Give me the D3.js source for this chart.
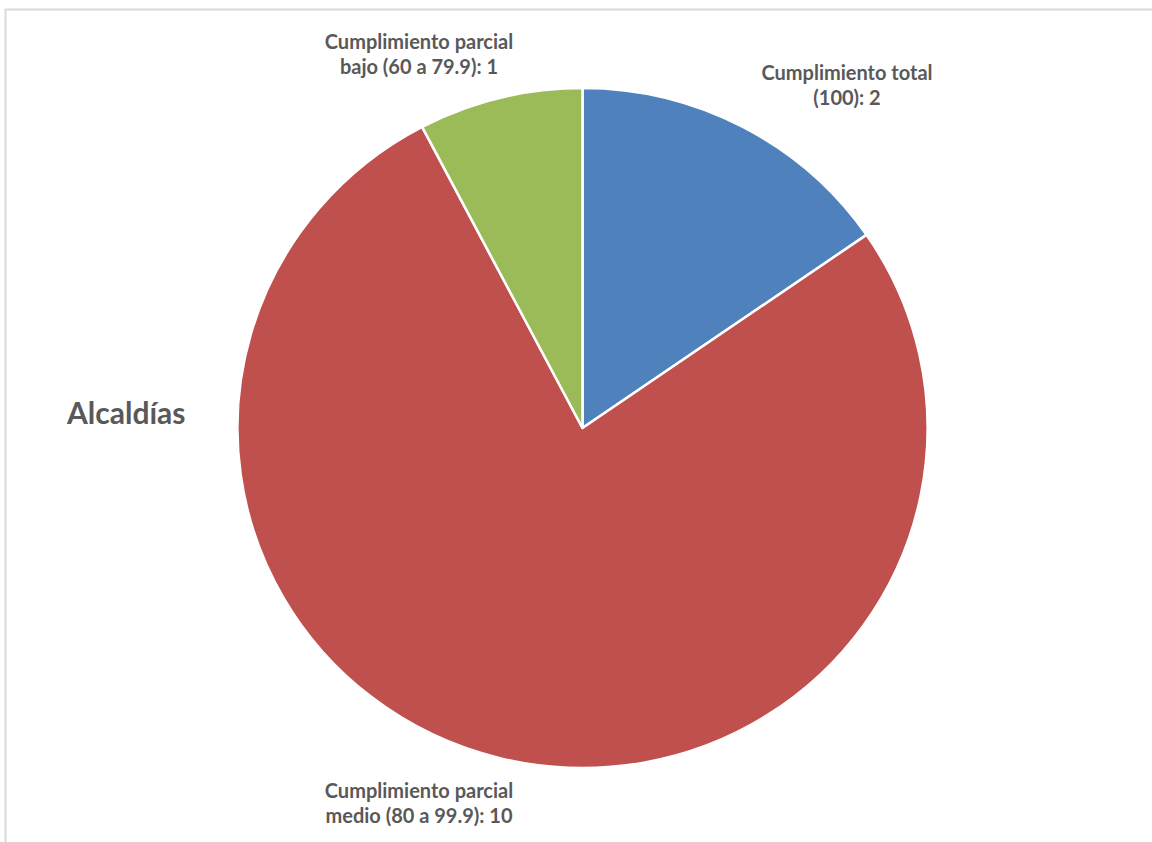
<!DOCTYPE html>
<html><head><meta charset="utf-8">
<script src="https://cdn.jsdelivr.net/npm/d3@7"></script>
<style>body{margin:0;background:#fff;}svg{display:block;}</style>
</head><body>
<svg id="c" width="1152" height="842"></svg>
<script>
const categories = ["Cumplimiento total (100)", "Cumplimiento parcial medio (80 a 99.9)", "Cumplimiento parcial bajo (60 a 79.9)"];
const values = [2, 10, 1];
const labelLines = [["Cumplimiento total", "(100): 2"], ["Cumplimiento parcial", "medio (80 a 99.9): 10"], ["Cumplimiento parcial", "bajo (60 a 79.9): 1"]];
const colors = ["#4F81BD", "#C0504D", "#9BBB59"];
const title = "Alcaldías";

const svg = d3.select("#c");
// frame
svg.append("path").attr("d","M5.5,842 V9.5 H1152").attr("fill","none").attr("stroke","#d9d9d9").attr("stroke-width",2);

const cx = 582.5, cy = 428, r = 340;
const data = categories.map((c,i)=>({c, v:values[i], i}));
const pie = d3.pie().value(d=>d.v).sort(null);
const arc = d3.arc().innerRadius(0).outerRadius(r);
const g = svg.append("g").attr("transform",`translate(${cx},${cy}) scale(1.015,1)`);
const arcs = pie(data);
g.selectAll("path").data(arcs).join("path")
  .attr("d",arc).attr("fill",d=>colors[d.data.i])
  .attr("stroke","#fff").attr("stroke-width",2.5).attr("stroke-linejoin","round");

// first-line baselines of each label
const labelPos = [[847,80],[419,798],[419,49]];
const font = "Lato, 'Open Sans', sans-serif";
arcs.forEach(a=>{
  const [x,y] = labelPos[a.data.i];
  const t = svg.append("text").attr("text-anchor","middle")
    .attr("font-family",font).attr("font-weight","bold").attr("font-size",20).attr("fill","#595959");
  labelLines[a.data.i].forEach((ln,j)=>{
    t.append("tspan").attr("x",x).attr("y",y+j*25).text(ln);
  });
});

svg.append("text").attr("x",67).attr("y",424).attr("font-family",font).attr("font-weight","bold")
  .attr("font-size",30).attr("fill","#595959").text(title);
</script>
</body></html>
